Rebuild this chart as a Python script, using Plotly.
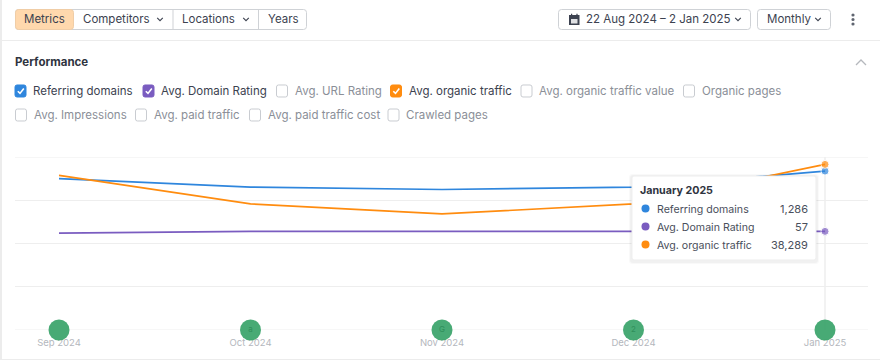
import plotly.graph_objects as go

W, H = 880, 360
months = ["Sep 2024", "Oct 2024", "Nov 2024", "Dec 2024", "Jan 2025"]
referring_domains = [1225, 1157, 1137, 1157, 1286]
domain_rating = [56, 57, 57, 57, 57]
organic_traffic = [35740, 29150, 26840, 29150, 38289]
event_labels = ["", "a", "G", "2", ""]
event_base = [0, 0, 0, 0, 0]

BLUE, PURPLE, ORANGE = "#2f86dd", "#7a5cc0", "#ff8c0f"
DARK, GREY = "#3c4250", "#8b8f98"
FONT = "Inter, 'Noto Sans', sans-serif"

def X(p): return p / W
def Y(p): return 1 - p / H

shapes, notes = [], []

def rrect(x0, y0, x1, y1, r=3, fill="#fff", line="#cfd2d6", lw=1, layer="above"):
    a, b, c, d = x0, y0, x1, y1
    pts = [("M", a + r, b), ("L", c - r, b), ("Q", c, b, c, b + r), ("L", c, d - r), ("Q", c, d, c - r, d),
           ("L", a + r, d), ("Q", a, d, a, d - r), ("L", a, b + r), ("Q", a, b, a + r, b)]
    s = ""
    for p in pts:
        s += p[0] + " " + " ".join(
            f"{X(v) if i % 2 == 0 else Y(v):.5f}" for i, v in enumerate(p[1:])) + " "
    shapes.append(dict(type="path", path=s + "Z", xref="paper", yref="paper", fillcolor=fill,
                       line=dict(color=line, width=lw), layer=layer))

def rect(x0, y0, x1, y1, fill, layer="above"):
    shapes.append(dict(type="rect", xref="paper", yref="paper", x0=X(x0), x1=X(x1), y0=Y(y0), y1=Y(y1),
                       fillcolor=fill, line=dict(width=0), layer=layer))

def poly(points, color, w=1.3):
    s = "M " + " L ".join(f"{X(a):.5f} {Y(b):.5f}" for a, b in points)
    shapes.append(dict(type="path", path=s, xref="paper", yref="paper", line=dict(color=color, width=w)))

def dot(cx, cy, r, color):
    shapes.append(dict(type="circle", xref="paper", yref="paper", x0=X(cx - r), x1=X(cx + r),
                       y0=Y(cy + r), y1=Y(cy - r), fillcolor=color, line=dict(width=0)))

def text(x, y, s, color=DARK, size=11.5, anchor="left", bold=False):
    notes.append(dict(x=X(x), y=Y(y), xref="paper", yref="paper", text=f"<b>{s}</b>" if bold else s,
                      showarrow=False, xanchor=anchor, yanchor="middle",
                      font=dict(family=FONT, size=size, color=color), borderpad=0, borderwidth=0))

def chevron(cx, cy, color=DARK, lw=1.1):
    poly([(cx - 2.8, cy - 1.6), (cx, cy + 1.2), (cx + 2.8, cy - 1.6)], color, lw)

def checkbox(x, y, label, fill=None):
    if fill:
        rrect(x, y - 6, x + 11, y + 6, r=2, fill=fill, line=fill)
        poly([(x + 2.8, y + 0.2), (x + 5, y + 2.4), (x + 8.8, y - 2.4)], "#fff", 1.6)
        text(x + 18, y, label, DARK)
    else:
        rrect(x, y - 6, x + 11, y + 6, r=2, fill="#fff", line="#c9ccd1")
        text(x + 18, y, label, GREY)

# page frame
rect(0, 0, 2, H, "#ececec", "below")
rect(2, 40, W, 41, "#ececec", "below")
rect(2, 359, W, H, "#ececec", "below")

# toolbar
rrect(15.5, 9.5, 306.5, 29.5)
rrect(15.5, 9.5, 73.5, 29.5, fill="#ffd8ad", line="#f0cda6")
rect(172.5, 10, 173.5, 29, "#cfd2d6")
rect(258, 10, 259, 29, "#cfd2d6")
text(44.5, 19, "Metrics", anchor="center")
text(83, 19, "Competitors")
chevron(160, 19.5)
text(182, 19, "Locations")
chevron(246, 19.5)
text(267.5, 19, "Years")

rrect(558.5, 9.5, 750.5, 29.5)
rect(569, 15, 579.5, 25, "#3c4250")
rect(571, 19, 577.5, 23.5, "#dfe0e3")
rect(571, 13.8, 572.2, 16, "#3c4250")
rect(576.4, 13.8, 577.6, 16, "#3c4250")
text(586, 19, "22 Aug 2024 – 2 Jan 2025")
chevron(738, 19.5)
rrect(757.5, 9.5, 830.5, 29.5)
text(767, 19, "Monthly")
chevron(818, 19.5)
for cy in (15, 19.5, 24):
    dot(853, cy, 1.6, "#5f6570")

# section header
text(15, 62, "Performance", "#2f3440", 11.5, bold=True)
poly([(856, 65), (861, 60), (866, 65)], "#b5b8bd", 1.3)

# metric checkboxes
checkbox(15, 91, "Referring domains", BLUE)
checkbox(143, 91, "Avg. Domain Rating", PURPLE)
checkbox(276.5, 91, "Avg. URL Rating")
checkbox(390.5, 91, "Avg. organic traffic", ORANGE)
checkbox(521, 91, "Avg. organic traffic value")
checkbox(683.5, 91, "Organic pages")
checkbox(15.5, 115, "Avg. Impressions")
checkbox(135.5, 115, "Avg. paid traffic")
checkbox(249.5, 115, "Avg. paid traffic cost")
checkbox(388, 115, "Crawled pages")

# hover cursor
shapes.append(dict(type="line", xref="x", yref="paper", x0=months[-1], x1=months[-1], y0=Y(330), y1=Y(157),
                   line=dict(color="#eeeeee", width=1.5), layer="below"))
# grid lines at the axis limits
for v in (0, 100):
    shapes.append(dict(type="line", xref="x domain", yref="y", x0=0, x1=1, y0=v, y1=v,
                       line=dict(color="#eeeeee", width=1), layer="below"))

# tooltip
for i, col in enumerate(["rgba(0,0,0,0.025)", "rgba(0,0,0,0.03)"]):
    rrect(630 - 1 + i, 175 - 1 + i, 818 + 1 - i, 262 + 2 - i, r=3, fill=col, line="rgba(0,0,0,0)", lw=0)
rrect(632, 176, 816, 260, r=2, fill="#ffffff", line="#eeeeee")
text(640, 190, "January 2025", "#2f3440", 10.7, bold=True)
rows = [("Referring domains", referring_domains[-1], BLUE, 209),
        ("Avg. Domain Rating", domain_rating[-1], PURPLE, 227),
        ("Avg. organic traffic", organic_traffic[-1], ORANGE, 245)]
for name, val, col, y in rows:
    dot(645.5, y - 0.5, 4, col)
    text(657, y, name, "#4a4f5c", 10.6)
    text(808, y, f"{val:,}", "#4a4f5c", 11, "right")

def line_trace(vals, color, axis, name):
    return go.Scatter(x=months, y=vals, name=name, yaxis=axis, mode="lines+markers", cliponaxis=False,
                      line=dict(color=color, width=1.7),
                      marker=dict(color=color, size=[0] * (len(vals) - 1) + [8],
                                  line=dict(color="#fff", width=[0] * (len(vals) - 1) + [1])),
                      hoverinfo="skip", showlegend=False)

fig = go.Figure([
    line_trace(domain_rating, PURPLE, "y", "Avg. Domain Rating"),
    line_trace(referring_domains, BLUE, "y2", "Referring domains"),
    line_trace(organic_traffic, ORANGE, "y3", "Avg. organic traffic"),
    go.Scatter(x=months, y=event_base, yaxis="y", mode="markers+text", text=event_labels,
               textposition="middle center", cliponaxis=False, hoverinfo="skip", showlegend=False,
               textfont=dict(family=FONT, size=8, color="#2f8f5b"),
               marker=dict(color="rgba(56,163,105,0.92)", size=21, line=dict(width=0))),
])

dom = [Y(330), Y(157)]
xr = [(15 - 59) / 191.5, (868 - 59) / 191.5]
fig.update_layout(
    width=W, height=H, margin=dict(l=0, r=0, t=0, b=0), autosize=False,
    paper_bgcolor="#ffffff", plot_bgcolor="#ffffff", font=dict(family=FONT),
    xaxis=dict(domain=[X(15), X(868)], type="category", categoryorder="array", categoryarray=months,
               range=xr, showgrid=False, zeroline=False, showline=False, ticks="", layer="below traces",
               tickfont=dict(family=FONT, size=9.5, color="#b4b7bd"), ticklabelstandoff=5),
    yaxis=dict(domain=dom, range=[0, 100], dtick=25, showticklabels=False, gridcolor="#eeeeee", gridwidth=1,
               zeroline=False, showline=False, layer="below traces"),
    yaxis2=dict(domain=dom, range=[0, 1400], overlaying="y", visible=False),
    yaxis3=dict(domain=dom, range=[0, 40000], overlaying="y", visible=False),
    shapes=shapes, annotations=notes,
)
fig.write_html("out.html", config=dict(displayModeBar=False),
               post_script="document.body.style.margin='0';document.body.style.overflow='hidden';")
